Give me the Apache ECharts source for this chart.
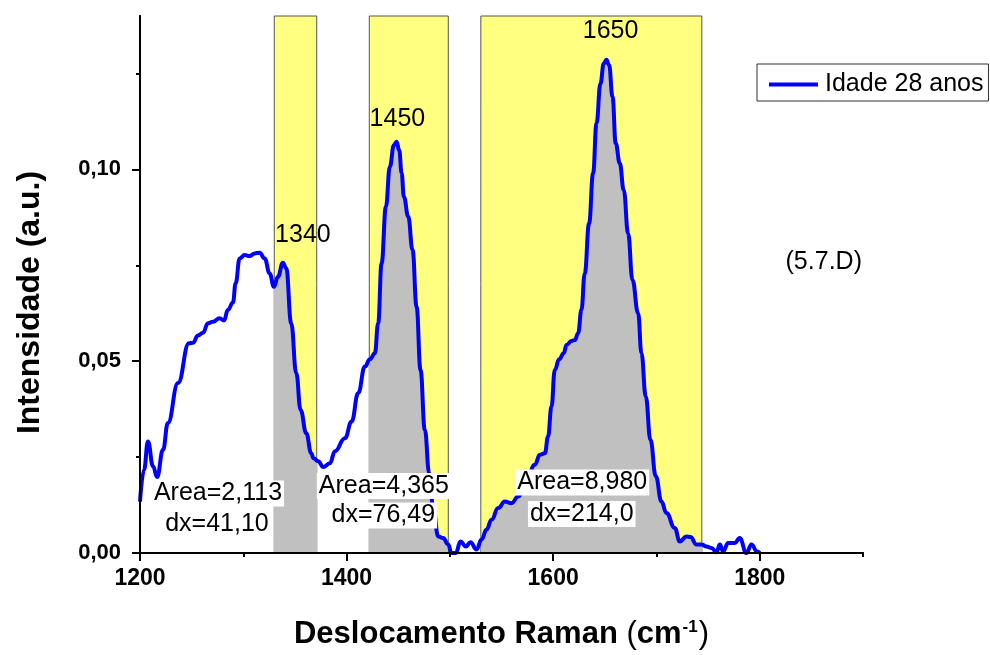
<!DOCTYPE html>
<html><head><meta charset="utf-8">
<script src="https://cdn.jsdelivr.net/npm/echarts@6/dist/echarts.min.js"></script>
<style>html,body{margin:0;padding:0;background:#fff}#c{width:990px;height:655px}</style>
</head><body><div id="c"></div>
<script>
// ---- data ----
const ramanShift = [1200,1203.9,1207.7,1212.6,1216.5,1222.3,1227,1236.8,1247.4,1251.3,1256.1,1261,1265.8,1270.6,1277.1,1281.3,1285.2,1290,1292.6,1296.5,1301.3,1306.1,1311,1315.8,1320.7,1325.5,1329.7,1333.5,1338.4,1341.6,1346.4,1351.3,1355.5,1361,1365.8,1368,1372.5,1377.4,1383.9,1388.7,1398.4,1404.9,1411.3,1417.7,1422.6,1427.4,1430.6,1433.9,1438.1,1441.9,1445.8,1448.4,1451,1453.3,1455.5,1459.7,1463.9,1467.8,1471.6,1475.8,1480,1483.8,1488.7,1493.5,1498.4,1501.6,1505.8,1510.3,1515.5,1520,1525.8,1530.7,1535.5,1540.4,1546.8,1553.2,1559.7,1566.1,1574.2,1582.3,1587.1,1592,1595.1,1598.4,1601.6,1605.8,1610.3,1612.9,1617.7,1621,1624.2,1627.4,1630.6,1634.8,1638.7,1642,1645.8,1649,1651.6,1654.2,1657.5,1660.6,1664.5,1668.4,1672.6,1676.8,1682.3,1685.5,1689.7,1694.2,1699.4,1704.9,1709.7,1717.8,1722.6,1729.1,1733,1738.8,1743.6,1748.5,1753.3,1758.2,1761.4,1764.6,1769.4,1775.9,1780.6,1787.1,1792,1797.4,1800];
const intensity = [0.0134,0.0217,0.0291,0.0226,0.0198,0.0269,0.0339,0.0443,0.0547,0.0548,0.0567,0.0574,0.0599,0.0603,0.0612,0.0606,0.0634,0.0653,0.0703,0.0768,0.0777,0.0774,0.0781,0.0783,0.0768,0.0729,0.0694,0.0720,0.0757,0.0742,0.0599,0.0469,0.0373,0.0312,0.0260,0.0247,0.0239,0.0224,0.0234,0.0265,0.0299,0.0343,0.0417,0.0486,0.0505,0.0521,0.0599,0.0755,0.0903,0.1007,0.1063,0.1072,0.1050,0.0990,0.0929,0.0877,0.0790,0.0642,0.0477,0.0321,0.0208,0.0121,0.0043,0.0039,0.0022,0.0,0.0,0.0030,0.0017,0.0028,0.0009,0.0035,0.0061,0.0087,0.0117,0.0134,0.0130,0.0147,0.0191,0.0230,0.0256,0.0260,0.0304,0.0382,0.0477,0.0505,0.0521,0.0542,0.0553,0.0555,0.0573,0.0634,0.0729,0.0859,0.0990,0.1120,0.1224,0.1276,0.1286,0.1272,0.1189,0.1068,0.1016,0.0946,0.0833,0.0712,0.0625,0.0521,0.0408,0.0295,0.0200,0.0134,0.0104,0.0065,0.0030,0.0043,0.0042,0.0022,0.0022,0.0017,0.0013,0.0002,0.0022,0.0004,0.0026,0.0026,0.0039,0.0,0.0022,0.0004,0.0];
const seriesName = 'Idade 28 anos';
const bandStart = [1330, 1422, 1530];
const bandEnd = [1371.1, 1498.49, 1744];
const peakLabels = ['1340', '1450', '1650'];
const areaLabels = ['Area=2,113', 'Area=4,365', 'Area=8,980'];
const dxLabels = ['dx=41,10', 'dx=76,49', 'dx=214,0'];
const panelLabel = '(5.7.D)';
const xMajorTicks = [1200, 1400, 1600, 1800];
const xMinorTicks = [1300, 1500, 1700, 1900];
const yMajorTicks = [0, 0.05, 0.10];
const yMinorTicks = [0.025, 0.075, 0.125];
const xTitle = 'Deslocamento Raman ';
const yTitle = 'Intensidade (a.u.)';

// ---- chart ----
const FONT = '"Liberation Sans", Arial, sans-serif';
const points = ramanShift.map((x, i) => [x, intensity[i]]);
const peakPos = [[1357.7, 0.0829], [1449.2, 0.1131], [1655.6, 0.1361]];
const areaPos = [[1275.5, 0.0155], [1436.1, 0.0175], [1628.2, 0.0184]];
const dxPos = [[1274.5, 0.0076], [1435.6, 0.0098], [1627.7, 0.0102]];
const panelPos = [1862, 0.0759];

const mp = [];
peakLabels.forEach((t, i) => mp.push({ name: t, coord: peakPos[i], label: { backgroundColor: 'transparent' } }));
areaLabels.forEach((t, i) => mp.push({ name: t, coord: areaPos[i] }));
dxLabels.forEach((t, i) => mp.push({ name: t, coord: dxPos[i] }));
mp.push({ name: panelLabel, coord: panelPos, label: { backgroundColor: 'transparent' } });

const axisLineStyle = { color: '#000', width: 2 };
const chart = echarts.init(document.getElementById('c'), null, { renderer: 'canvas' });
chart.setOption({
  animation: false,
  backgroundColor: '#fff',
  textStyle: { fontFamily: FONT },
  grid: { left: 140, right: 127, top: 16, bottom: 102, containLabel: false },
  legend: {
    data: [{ name: seriesName, icon: 'rect' }], left: 757, top: 64, backgroundColor: '#fff',
    borderColor: '#333', borderWidth: 1, padding: [8, 5, 4, 12],
    itemWidth: 49, itemHeight: 4,
    textStyle: { fontSize: 25, color: '#000', fontFamily: FONT, padding: [0, 0, 0, 2] }
  },
  visualMap: {
    type: 'piecewise', show: false, dimension: 0, seriesIndex: 0,
    pieces: bandStart.map((s, i) => ({ gte: s, lte: bandEnd[i], color: '#C0C0C0' })),
    outOfRange: { color: 'rgba(0,0,0,0)' }
  },
  xAxis: [{
    type: 'value', min: 1200, max: 1900, interval: 100, position: 'bottom', z: 10,
    axisLine: { lineStyle: axisLineStyle },
    axisTick: { customValues: xMajorTicks, length: 8, lineStyle: axisLineStyle },
    axisLabel: { customValues: xMajorTicks, fontSize: 23, fontWeight: 'bold', color: '#000', margin: 14, fontFamily: FONT,
      formatter: v => String(v) },
    splitLine: { show: false },
    name: '{b|' + xTitle + '}{r|(}{b|cm}{s|-1}{r|)}', nameLocation: 'middle', nameGap: 66,
    nameTextStyle: {
      rich: {
        b: { fontSize: 31, fontWeight: 'bold', color: '#000', fontFamily: FONT },
        r: { fontSize: 31, color: '#000', fontFamily: FONT },
        s: { fontSize: 17, fontWeight: 'bold', color: '#000', fontFamily: FONT, verticalAlign: 'top', padding: [0, 1, 0, 1] }
      }
    }
  }, {
    type: 'value', min: 1200, max: 1900, interval: 100, position: 'bottom', z: 10,
    axisLine: { lineStyle: axisLineStyle },
    axisTick: { customValues: xMinorTicks, length: 4, lineStyle: axisLineStyle },
    axisLabel: { show: false }, splitLine: { show: false }
  }],
  yAxis: [{
    type: 'value', min: 0, max: 0.14, interval: 0.05, position: 'left', z: 10,
    axisLine: { show: true, lineStyle: axisLineStyle },
    axisTick: { show: true, customValues: yMajorTicks, length: 8, lineStyle: axisLineStyle },
    axisLabel: { customValues: yMajorTicks, fontSize: 22, fontWeight: 'bold', color: '#000', margin: 19, fontFamily: FONT,
      formatter: v => v.toFixed(2).replace('.', ',') },
    splitLine: { show: false },
    name: yTitle, nameLocation: 'middle', nameGap: 94,
    nameTextStyle: { fontSize: 32, fontWeight: 'bold', color: '#000', fontFamily: FONT, padding: [0, 36, 0, 0] }
  }, {
    type: 'value', min: 0, max: 0.14, interval: 0.05, position: 'left', z: 10,
    axisLine: { show: true, lineStyle: axisLineStyle },
    axisTick: { show: true, customValues: yMinorTicks, length: 4, lineStyle: axisLineStyle },
    axisLabel: { show: false }, splitLine: { show: false }
  }],
  series: [{
    name: 'fill', type: 'line', data: points, smooth: 0.45, smoothMonotone: 'x',
    symbol: 'none', silent: true, z: 2,
    lineStyle: { width: 0 }, areaStyle: { opacity: 1 },
    markArea: {
      silent: true, z: 1,
      itemStyle: { color: '#FFFF80', borderColor: '#555', borderWidth: 1 },
      data: bandStart.map((s, i) => [{ xAxis: s }, { xAxis: bandEnd[i] }])
    }
  }, {
    name: seriesName, type: 'line', data: points, smooth: 0.45, smoothMonotone: 'x',
    symbol: 'none', z: 3, color: '#0000FF',
    lineStyle: { color: '#0000FF', width: 4, join: 'round' },
    markPoint: {
      silent: true, symbol: 'circle', symbolSize: 1, itemStyle: { color: 'rgba(0,0,0,0)' },
      label: { show: true, position: 'inside', formatter: p => p.name, fontSize: 25, color: '#000',
        fontFamily: FONT, backgroundColor: '#fff', padding: [1, 2, 0, 2] },
      data: mp
    }
  }]
});
</script></body></html>
